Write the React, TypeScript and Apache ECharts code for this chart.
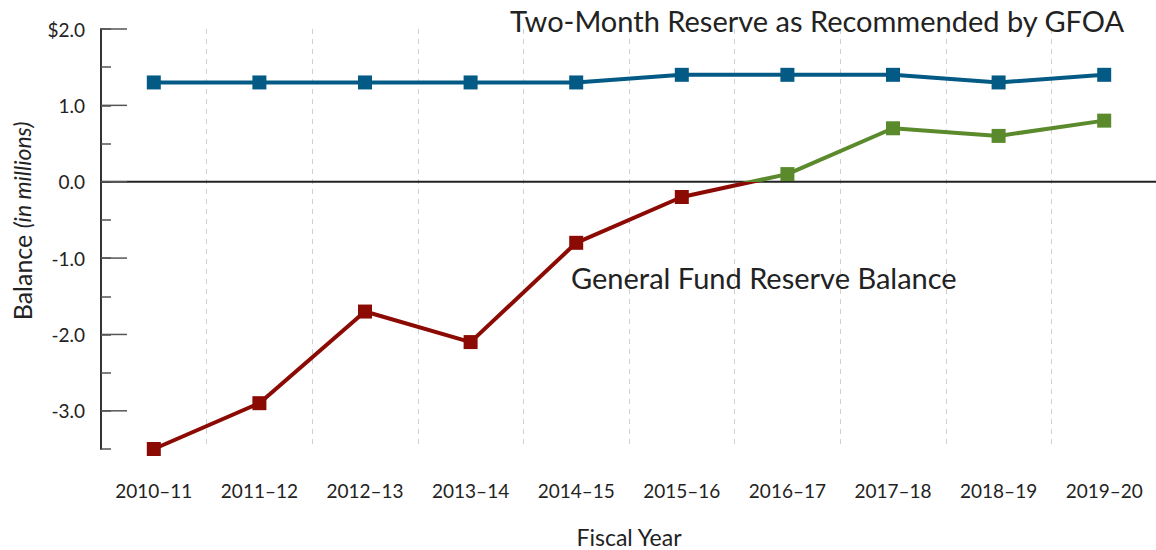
import React, { useEffect, useRef } from "react";
import * as echarts from "echarts";

const categories = ["2010–11", "2011–12", "2012–13", "2013–14", "2014–15", "2015–16", "2016–17", "2017–18", "2018–19", "2019–20"];
const gfoaReserve = [1.3, 1.3, 1.3, 1.3, 1.3, 1.4, 1.4, 1.4, 1.3, 1.4];
const generalFundBalance = [-3.5, -2.9, -1.7, -2.1, -0.8, -0.2, 0.1, 0.7, 0.6, 0.8];
const majorTicks = [-3, -2, -1, 0, 1, 2];

const BLUE = "#035a84";
const RED = "#8c0a04";
const GREEN = "#5b8a2c";
const FONT = "Lato";

const GRID_LEFT = 101;
const GRID_TOP = 29;
const GRID_W = 1056;
const GRID_H = 420;

export default function App() {
  const ref = useRef<HTMLDivElement>(null);
  useEffect(() => {
    if (!ref.current) return;
    const chart = echarts.init(ref.current, null, { renderer: "svg" });
    chart.setOption({
      animation: false,
      textStyle: { fontFamily: FONT },
      grid: { left: GRID_LEFT, top: GRID_TOP, width: GRID_W, height: GRID_H, containLabel: false, outerBoundsMode: "none" },
      xAxis: {
        type: "category",
        data: categories,
        boundaryGap: true,
        axisLine: { show: false },
        axisTick: { show: false },
        axisLabel: { margin: 32, fontSize: 19, color: "#222", fontFamily: FONT },
        splitLine: { show: true, lineStyle: { color: "#cfcfcf", type: [5, 5], width: 1 } },
        name: "Fiscal Year",
        nameLocation: "middle",
        nameGap: 76,
        nameTextStyle: { fontSize: 23, color: "#222", fontFamily: FONT },
      },
      yAxis: {
        type: "value",
        min: -3.5,
        max: 2,
        interval: 0.5,
        axisLine: { show: true, lineStyle: { color: "#333", width: 2 } },
        axisTick: { show: true, length: 10, inside: true, lineStyle: { color: "#555", width: 1.5 } },
        axisLabel: {
          margin: 16,
          fontSize: 19,
          color: "#222",
          fontFamily: FONT,
          formatter: (v: number) => (Math.abs(v - Math.round(v)) > 1e-6 ? "" : v === 2 ? "$2.0" : v.toFixed(1)),
        },
        splitLine: { show: false },
      },
      series: [
        {
          name: "Two-Month Reserve as Recommended by GFOA",
          type: "line",
          data: gfoaReserve,
          symbol: "rect",
          symbolSize: 14,
          lineStyle: { color: BLUE, width: 4 },
          itemStyle: { color: BLUE },
          z: 3,
        },
        {
          name: "General Fund Reserve Balance",
          type: "line",
          data: generalFundBalance,
          symbol: "rect",
          symbolSize: 14,
          lineStyle: { width: 4, color: RED },
          itemStyle: { color: (p: any) => (p.value < 0 ? RED : GREEN) },
          z: 4,
        },
      ],
    });

    const yTop = chart.convertToPixel({ yAxisIndex: 0 }, 2) as number;
    const yBottom = chart.convertToPixel({ yAxisIndex: 0 }, -3.5) as number;
    const yZero = chart.convertToPixel({ yAxisIndex: 0 }, 0) as number;
    const zeroOffset = (yZero - yTop) / (yBottom - yTop);

    const tickGraphics = majorTicks.map((v) => {
      const y = chart.convertToPixel({ yAxisIndex: 0 }, v) as number;
      return {
        type: "line",
        shape: { x1: GRID_LEFT, y1: y, x2: GRID_LEFT + 26, y2: y },
        style: { stroke: "#555", lineWidth: 1.5 },
        z: 2,
      };
    });

    chart.setOption({
      series: [
        {},
        {
          lineStyle: {
            width: 4,
            color: new echarts.graphic.LinearGradient(
              0, yTop, 0, yBottom,
              [
                { offset: 0, color: GREEN },
                { offset: zeroOffset, color: GREEN },
                { offset: zeroOffset, color: RED },
                { offset: 1, color: RED },
              ],
              true
            ),
          },
        },
      ],
      graphic: [
        ...tickGraphics,
        {
          type: "line",
          shape: { x1: GRID_LEFT, y1: yZero, x2: GRID_LEFT + GRID_W, y2: yZero },
          style: { stroke: "#222", lineWidth: 2 },
          z: 1,
        },
        {
          type: "text",
          left: 510,
          top: 6,
          style: { text: "Two-Month Reserve as Recommended by GFOA", fontSize: 29, fill: "#222", fontFamily: FONT },
        },
        {
          type: "text",
          left: 571,
          top: 263,
          style: { text: "General Fund Reserve Balance", fontSize: 29, fill: "#222", fontFamily: FONT },
        },
        {
          type: "text",
          x: 22,
          y: 221,
          rotation: Math.PI / 2,
          style: {
            text: "{a|Balance }{b|(in millions)}",
            align: "center",
            verticalAlign: "middle",
            rich: {
              a: { fontSize: 25, fill: "#222", fontFamily: FONT },
              b: { fontSize: 23, fill: "#222", fontFamily: FONT, fontStyle: "italic" },
            },
          },
        },
      ],
    });
    return () => chart.dispose();
  }, []);
  return <div ref={ref} style={{ position: "absolute", left: 0, top: 0, width: 1156, height: 550 }} />;
}
